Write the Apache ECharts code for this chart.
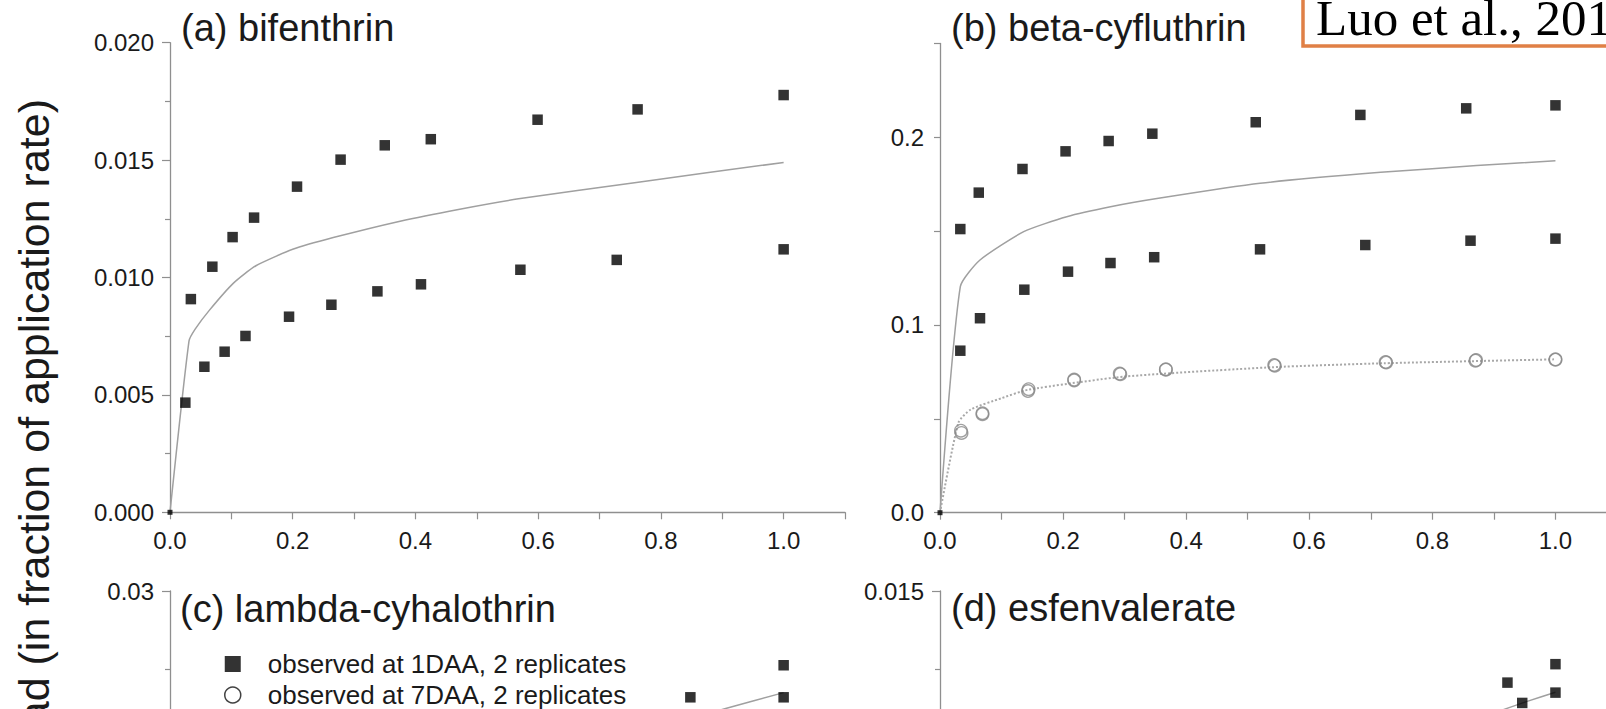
<!DOCTYPE html>
<html>
<head>
<meta charset="utf-8">
<script src="https://cdn.jsdelivr.net/npm/echarts@6/dist/echarts.min.js"></script>
<style>
  html, body { margin: 0; padding: 0; background: #fff; overflow: hidden; }
  /* the figure is cropped by the window: panels (b), (c), (d) run past the edges */
  #chart { width: 1650px; height: 1100px; }
</style>
</head>
<body>
<div id="chart"></div>
<script>
// (a) bifenthrin, 1DAA, two replicates + fitted curve
const bifRep1 = [[0, 0], [0.034, 0.00908], [0.069, 0.01046], [0.102, 0.01172], [0.137, 0.01255], [0.207, 0.01387], [0.278, 0.01502], [0.350, 0.01563], [0.425, 0.01589], [0.599, 0.01672], [0.762, 0.01716], [1.0, 0.01777]];
const bifRep2 = [[0.025, 0.00467], [0.056, 0.0062], [0.089, 0.00684], [0.123, 0.00751], [0.194, 0.00833], [0.263, 0.00884], [0.338, 0.00941], [0.409, 0.00971], [0.571, 0.01033], [0.728, 0.01075], [1.0, 0.0112]];
const bifFit = [[0, 0], [0.031, 0.0073], [0.041, 0.0078], [0.064, 0.0086], [0.103, 0.00975], [0.14, 0.0105], [0.2, 0.0112], [0.266, 0.0117], [0.375, 0.0124], [0.47, 0.0129], [0.568, 0.01335], [0.76, 0.01405], [1.0, 0.0149]];

// (b) beta-cyfluthrin, 1DAA and 7DAA
const betaRep1 = [[0, 0], [0.033, 0.1511], [0.063, 0.1705], [0.134, 0.1831], [0.204, 0.1925], [0.274, 0.198], [0.345, 0.2019], [0.513, 0.208], [0.683, 0.2119], [0.855, 0.2154], [1.0, 0.217]];
const betaRep2 = [[0.033, 0.0863], [0.065, 0.1036], [0.137, 0.1188], [0.208, 0.1284], [0.277, 0.133], [0.348, 0.1361], [0.52, 0.1403], [0.691, 0.1426], [0.862, 0.1449], [1.0, 0.146]];
const betaFit = [[0, 0], [0.033, 0.1204], [0.065, 0.1346], [0.136, 0.1497], [0.206, 0.1577], [0.277, 0.163], [0.355, 0.1675], [0.52, 0.1755], [0.716, 0.1813], [0.872, 0.1849], [1.0, 0.1875]];
const beta7Rep1 = [[0.034, 0.0437], [0.069, 0.053], [0.143, 0.0648], [0.218, 0.0709], [0.292, 0.0741], [0.367, 0.0764], [0.543, 0.0787], [0.724, 0.0803], [0.87, 0.081], [1.0, 0.0817]];
const beta7Rep2 = [[0.035, 0.0425], [0.069, 0.0525], [0.144, 0.0658], [0.218, 0.0705], [0.293, 0.0738], [0.367, 0.0762], [0.544, 0.0783], [0.725, 0.08], [0.871, 0.0813], [1.0, 0.0815]];
const beta7Fit = [[0, 0], [0.03, 0.048], [0.05, 0.055], [0.1, 0.061], [0.143, 0.0655], [0.3, 0.0725], [0.54, 0.0775], [0.72, 0.0796], [1.0, 0.0817]];

// (c) lambda-cyhalothrin (only top part visible)
const lambdaObs = [[0.848, 0.0232], [1.0, 0.0232], [1.0, 0.02525]];
const lambdaFit = [[0.8, 0.0213], [0.907, 0.0225], [1.0, 0.0235]];

// (d) esfenvalerate (only top part visible)
const esfenObs = [[0.922, 0.01207], [0.946, 0.01142], [1.0, 0.01175], [1.0, 0.01266]];
const esfenFit = [[0.9, 0.0111], [0.954, 0.01147], [1.0, 0.01176]];

const titles = ['(a) bifenthrin', '(b) beta-cyfluthrin', '(c) lambda-cyhalothrin', '(d) esfenvalerate'];
const legendNames = ['observed at 1DAA, 2 replicates', 'observed at 7DAA, 2 replicates'];
const yTitle = 'load (in fraction of application rate)';
const citation = 'Luo et al., 2014';

const FONT = '"Liberation Sans", Arial, Helvetica, sans-serif';
const AXIS_GRAY = '#8f8f8f';

const grids = [
  {left: 170, top: 42.7, width: 675, height: 469.6},
  {left: 940, top: 43.4, width: 677, height: 469.3},
  {left: 170, top: 591, width: 675, height: 470},
  {left: 940, top: 591, width: 677, height: 470}
];

function xAxis(i) {
  return {
    type: 'value', gridIndex: i, min: 0, max: 1.1, interval: 0.1,
    axisLine: {show: true, onZero: false, lineStyle: {color: AXIS_GRAY, width: 1.3}},
    axisTick: {show: true, length: 7, lineStyle: {color: AXIS_GRAY, width: 1.2}},
    axisLabel: {
      margin: 16, fontSize: 24, color: '#1a1a1a', fontFamily: FONT,
      formatter: v => Math.round(v * 10) % 2 === 0 ? v.toFixed(1) : ''
    },
    splitLine: {show: false}
  };
}

function yAxis(i, max, step, digits, minor) {
  const ax = {
    type: 'value', gridIndex: i, min: 0, max: max, interval: step,
    axisLine: {show: true, onZero: false, lineStyle: {color: AXIS_GRAY, width: 1.3}},
    axisTick: {show: true, length: 8, lineStyle: {color: AXIS_GRAY, width: 1.2}},
    axisLabel: {margin: 16, fontSize: 24, color: '#1a1a1a', fontFamily: FONT, formatter: v => v.toFixed(digits)},
    splitLine: {show: false}
  };
  if (minor) {
    ax.minorTick = {show: true, splitNumber: 2, length: 5, lineStyle: {color: AXIS_GRAY, width: 1.2}};
  } else {
    // panel b: ticks every 0.05, labels every 0.1
    ax.axisTick.length = 6;
    ax.axisLabel.formatter = v => Math.round(v / step) % 2 === 0 ? v.toFixed(digits) : '';
  }
  return ax;
}

function squares(name, data, i) {
  return {
    name: name, type: 'scatter', xAxisIndex: i, yAxisIndex: i, data: data,
    symbol: 'rect', symbolSize: v => (v[0] === 0 ? 5 : 10.5),
    itemStyle: {color: '#000'}, z: 4, silent: true
  };
}
function circles(name, data, i) {
  return {
    name: name, type: 'scatter', xAxisIndex: i, yAxisIndex: i, data: data,
    symbol: 'circle', symbolSize: 12.5,
    itemStyle: {color: 'rgba(255,255,255,0)', borderColor: '#8a8a8a', borderWidth: 1.4}, z: 4, silent: true
  };
}
function fitLine(name, data, i, dotted) {
  return {
    name: name, type: 'line', xAxisIndex: i, yAxisIndex: i, data: data,
    showSymbol: false, symbol: 'none', smooth: 0.2, silent: true,
    lineStyle: dotted ? {color: '#a8a8a8', width: 2, type: 'dotted'} : {color: '#a0a0a0', width: 1.5},
    z: 2
  };
}

const chart = echarts.init(document.getElementById('chart'), null, {renderer: 'svg'});
chart.setOption({
  animation: false,
  backgroundColor: '#fff',
  grid: grids,
  xAxis: [0, 1, 2, 3].map(xAxis),
  yAxis: [
    yAxis(0, 0.020, 0.005, 3, true),
    yAxis(1, 0.25, 0.05, 1, false),
    yAxis(2, 0.03, 0.01, 2, true),
    yAxis(3, 0.015, 0.005, 3, true)
  ],
  title: [
    {text: titles[0], left: 181, top: 9},
    {text: titles[1], left: 951, top: 9},
    {text: titles[2], left: 180, top: 590},
    {text: titles[3], left: 951, top: 589}
  ].map(t => Object.assign(t, {padding: 0, textStyle: {fontSize: 38, fontWeight: 'normal', color: '#1a1a1a', fontFamily: FONT}})),
  legend: {
    orient: 'vertical', left: 219, top: 646, itemWidth: 16, itemHeight: 16, itemGap: 5,
    selectedMode: false,
    textStyle: {fontSize: 26, color: '#1a1a1a', fontFamily: FONT, lineHeight: 24, padding: [0, 0, 0, 22]},
    data: [
      {name: legendNames[0], icon: 'rect', itemStyle: {color: '#000'}},
      {name: legendNames[1], icon: 'circle', itemStyle: {color: '#fff', borderColor: '#111', borderWidth: 1.5}}
    ]
  },
  graphic: [
    {
      type: 'text', x: 34, y: 99, rotation: Math.PI / 2, silent: true,
      style: {text: yTitle, fontSize: 43, fontFamily: FONT, fill: '#1a1a1a', align: 'right', verticalAlign: 'middle'}
    },
    {
      type: 'rect', silent: true,
      shape: {x: 1303, y: -20, width: 340, height: 66},
      style: {fill: '#fff', stroke: '#e08046', lineWidth: 3.5}, z: 10
    },
    {
      type: 'text', x: 1316, y: 18, silent: true, z: 11,
      style: {text: citation, fontSize: 51, fontFamily: '"Liberation Serif", "Times New Roman", serif', fill: '#000', verticalAlign: 'middle'}
    }
  ],
  series: [
    fitLine('fit a', bifFit, 0),
    squares(legendNames[0], bifRep1, 0),
    squares(legendNames[0], bifRep2, 0),
    fitLine('fit b 1DAA', betaFit, 1),
    fitLine('fit b 7DAA', beta7Fit, 1, true),
    squares(legendNames[0], betaRep1, 1),
    squares(legendNames[0], betaRep2, 1),
    circles(legendNames[1], beta7Rep1, 1),
    circles(legendNames[1], beta7Rep2, 1),
    fitLine('fit c', lambdaFit, 2),
    squares(legendNames[0], lambdaObs, 2),
    fitLine('fit d', esfenFit, 3),
    squares(legendNames[0], esfenObs, 3)
  ]
});
</script>
</body>
</html>
